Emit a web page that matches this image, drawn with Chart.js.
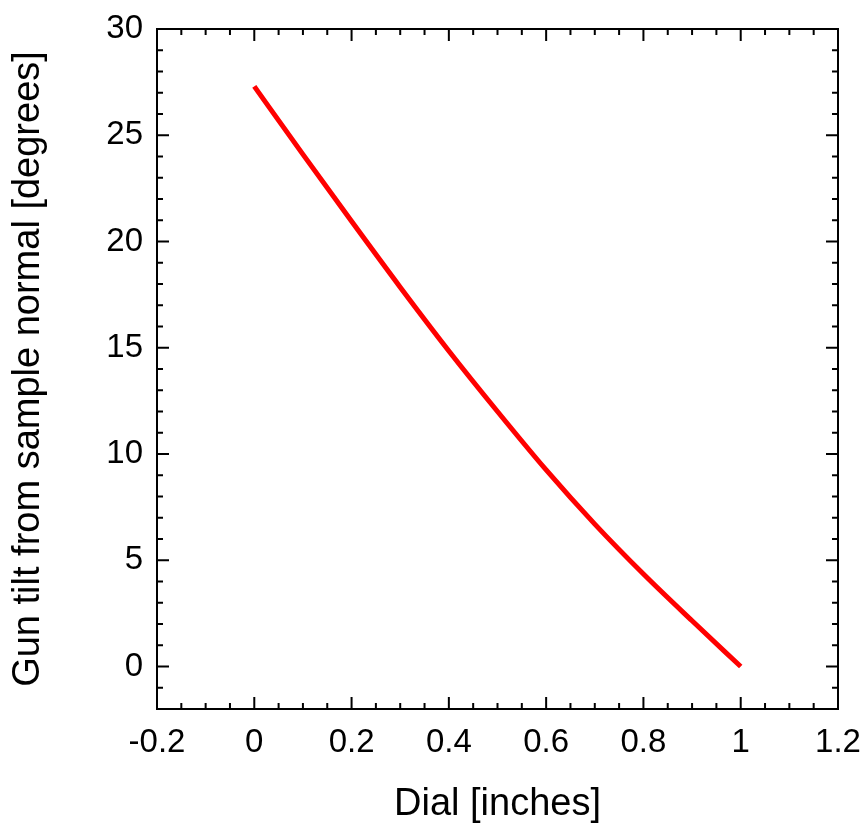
<!DOCTYPE html>
<html lang="en">

<head>
    <meta charset="UTF-8">
    <title>Gun tilt vs dial</title>
    <script src="https://cdn.jsdelivr.net/npm/chart.js@4.4.0/dist/chart.umd.min.js"></script>
    <style>
        body { margin: 0; background: #fff; }
    </style>
</head>

<body>
    <canvas id="tiltChart" width="865" height="827"></canvas>
    <script>
        // values
        const dial = [0, 0.1, 0.2, 0.3, 0.4, 0.5, 0.6, 0.7, 0.8, 0.9, 1.0];
        const tilt = [27.3, 24.1, 20.95, 17.85, 14.85, 12.0, 9.25, 6.7, 4.35, 2.15, 0];

        const xTicks = [-0.2, 0, 0.2, 0.4, 0.6, 0.8, 1.0, 1.2];
        const xTickLabels = ['-0.2', '0', '0.2', '0.4', '0.6', '0.8', '1', '1.2'];
        const yTicks = [0, 5, 10, 15, 20, 25, 30];

        // inward ticks on all four sides, like the original
        const frameTicks = {
            id: 'frameTicks',
            afterDatasetsDraw(chart) {
                const ctx = chart.ctx;
                const a = chart.chartArea;
                const xs = chart.scales.x, ys = chart.scales.y;
                ctx.save();
                ctx.strokeStyle = '#000';
                ctx.lineWidth = 2;
                ctx.beginPath();
                for (let v = -2; v <= 30; v++) {
                    const p = ys.getPixelForValue(v);
                    const len = v % 5 === 0 ? 12 : 6;
                    ctx.moveTo(a.left, p); ctx.lineTo(a.left + len, p);
                    ctx.moveTo(a.right, p); ctx.lineTo(a.right - len, p);
                }
                for (let i = -4; i <= 24; i++) {
                    const v = i * 0.05;
                    const p = xs.getPixelForValue(v);
                    const len = i % 4 === 0 ? 12 : 6;
                    ctx.moveTo(p, a.bottom); ctx.lineTo(p, a.bottom - len);
                    ctx.moveTo(p, a.top); ctx.lineTo(p, a.top + len);
                }
                ctx.stroke();
                ctx.strokeRect(a.left, a.top, a.right - a.left, a.bottom - a.top);
                ctx.restore();
            }
        };

        Chart.defaults.font.family = "'Liberation Sans', Arial, sans-serif";
        Chart.defaults.color = '#000';

        new Chart(document.getElementById('tiltChart').getContext('2d'), {
            type: 'line',
            data: {
                datasets: [{
                    data: dial.map((d, i) => ({ x: d, y: tilt[i] })),
                    borderColor: '#ff0000',
                    borderWidth: 5,
                    pointRadius: 0,
                    cubicInterpolationMode: 'monotone',
                    fill: false
                }]
            },
            options: {
                responsive: false,
                animation: false,
                layout: { padding: { top: 29, right: 27, left: 0, bottom: 0 } },
                plugins: { legend: { display: false }, tooltip: { enabled: false } },
                scales: {
                    x: {
                        type: 'linear',
                        min: -0.2,
                        max: 1.2,
                        afterBuildTicks: s => { s.ticks = xTicks.map(v => ({ value: v })); },
                        afterFit: s => { s.height = 118; s.paddingLeft = 0; s.paddingRight = 0; },
                        grid: { display: false },
                        border: { display: false },
                        ticks: {
                            padding: 6,
                            maxRotation: 0,
                            font: { size: 33 },
                            callback: (v, i) => xTickLabels[i]
                        },
                        title: {
                            display: true,
                            text: 'Dial [inches]',
                            font: { size: 38 },
                            padding: { top: 0, bottom: 0 }
                        }
                    },
                    y: {
                        min: -2,
                        max: 30,
                        afterBuildTicks: s => { s.ticks = yTicks.map(v => ({ value: v })); },
                        afterFit: s => { s.width = 157; s.paddingTop = 0; s.paddingBottom = 0; },
                        grid: { display: false },
                        border: { display: false },
                        ticks: {
                            padding: 6,
                            font: { size: 33 }
                        },
                        title: {
                            display: true,
                            text: 'Gun tilt from sample normal [degrees]',
                            font: { size: 38 },
                            padding: { top: 6, bottom: 0 }
                        }
                    }
                }
            },
            plugins: [frameTicks]
        });
    </script>
</body>

</html>
